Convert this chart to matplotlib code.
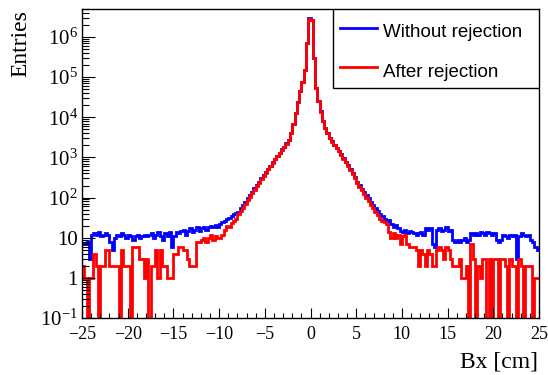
import matplotlib
matplotlib.use("Agg")
import matplotlib.pyplot as plt
import numpy as np
from matplotlib.patches import Rectangle
from matplotlib.lines import Line2D
from matplotlib.ticker import FixedLocator, FixedFormatter, MultipleLocator, LogLocator, NullFormatter

plt.rcParams['font.family'] = 'Liberation Serif'
plt.rcParams['mathtext.fontset'] = 'custom'
plt.rcParams['mathtext.rm'] = 'Liberation Serif'
plt.rcParams['mathtext.it'] = 'Liberation Serif:italic'

# 200 bins of 0.25 cm between -25 and 25 cm
x_min, x_max, n_bins = -25, 25, 200
edges = np.linspace(x_min, x_max, n_bins + 1)

without_rejection = [
    7, 7, 8, 3,          12, 13, 12, 14,      11, 12, 13, 12,      8, 5, 10, 12,
    11, 13, 12, 10,      12, 11, 9, 11,       12, 10, 11, 12,      11, 12, 13, 10,
    12, 14, 11, 9,       13, 11, 14, 6,       11, 14, 13, 15,      16, 12, 15, 17,
    14, 16, 18, 15,      17, 19, 16, 18,      20, 19, 21, 18,      22, 24, 26, 30,
    31, 34, 38, 42,      45, 54, 65, 79,      95, 115, 140, 170,   205, 245, 300, 365,
    435, 525, 630, 760,  910, 1100, 1320, 1580,
    1860, 2240, 2750, 4000,
    7000, 12600, 24000, 45000,
    75000, 150000, 700000, 2900000,
    2700000, 300000, 55000, 25000,
    14000, 8000, 5500, 4000,
    3000, 2500, 2100, 1750,
    1450, 1200, 950, 780,
    640, 520, 400, 320,  250, 205, 168, 138,  114, 95, 78, 65,     54, 46, 40, 34,
    30, 26, 28, 22,      19, 21, 17, 15,      14, 16, 13, 15,      14, 13, 12, 13,
    14, 12, 17, 16,      17, 7, 6, 16,        17, 15, 16, 18,      15, 16, 9, 8,
    9, 8, 9, 10,         8, 9, 13, 12,        13, 12, 14, 13,      12, 14, 13, 12,
    13, 9, 8, 9,         12, 11, 10, 12,      11, 12, 3, 11,       13, 12, 11, 12,
    9, 8, 6, 5,
]

after_rejection = [
    2, 1, 0, 1,          1, 4, 2, 0,          2, 2, 5, 5,          2, 2, 2, 2,
    0, 5, 2, 2,          2, 0, 6, 6,          6, 3, 3, 1,          3, 0, 2, 2,
    5, 1, 5, 2,          2, 1, 1, 1,          4, 4, 6, 6,          5, 5, 3, 2,
    2, 2, 8, 8,          9, 10, 8, 10,        12, 9, 11, 10,       10, 12, 16, 20,
    18, 23, 26, 30,      38, 46, 56, 70,      85, 104, 128, 156,   190, 230, 285, 345,
    415, 505, 610, 740,  890, 1080, 1300, 1560,
    1840, 2220, 2720, 3960,
    6950, 12500, 23800, 44700,
    74500, 149000, 695000, 2800000,
    2600000, 298000, 54500, 24800,
    13900, 7950, 5450, 3960,
    2970, 2470, 2070, 1720,
    1420, 1170, 925, 755,
    615, 495, 378, 300,  232, 188, 152, 123,  100, 82, 66, 54,     44, 37, 30, 26,
    25, 22, 14, 10,      13, 10, 12, 7,       11, 12, 7, 6,        6, 6, 5, 2,
    5, 4, 2, 5,          4, 2, 2, 5,          6, 5, 3, 6,          5, 3, 2, 2,
    2, 3, 1, 1,          2, 0, 7, 3,          0, 2, 1, 3,          3, 0, 3, 0,
    3, 3, 0, 3,          3, 2, 0, 3,          2, 2, 0, 3,          2, 0, 2, 2,
    2, 0, 1, 1,
]

series_names = ["Without rejection", "After rejection"]
series_colors = ["#0000ff", "#ff0000"]

y_ticks = [0.1, 1, 10, 1e2, 1e3, 1e4, 1e5, 1e6]
y_tick_labels = [r"$10^{-1}$", "1", "10", r"$10^{2}$", r"$10^{3}$",
                 r"$10^{4}$", r"$10^{5}$", r"$10^{6}$"]

fig = plt.figure(figsize=(5.48, 3.75), dpi=100)
ax = fig.add_axes([82 / 548, 1 - 318 / 375, 457 / 548, 309 / 375])

for vals, col in zip([without_rejection, after_rejection], series_colors):
    ax.stairs(vals, edges, baseline=None, color=col, linewidth=2.0)

ax.set_yscale('log', nonpositive='clip')
ax.set_xlim(x_min, x_max)
ax.set_ylim(0.1, 5e6)

ax.xaxis.set_major_locator(MultipleLocator(5))
ax.xaxis.set_minor_locator(MultipleLocator(1))
ax.yaxis.set_major_locator(FixedLocator(y_ticks))
ax.yaxis.set_major_formatter(FixedFormatter(y_tick_labels))
ax.yaxis.set_minor_locator(LogLocator(base=10, subs=np.arange(2, 10), numticks=20))
ax.yaxis.set_minor_formatter(NullFormatter())

ax.tick_params(axis='x', which='major', direction='in', length=7, width=0.8, pad=6, labelsize=13)
ax.tick_params(axis='x', which='minor', direction='in', length=3.5, width=0.8)
ax.tick_params(axis='y', which='major', direction='in', length=9.5, width=0.8, pad=3, labelsize=15)
ax.tick_params(axis='y', which='minor', direction='in', length=5, width=0.8)
for sp in ax.spines.values():
    sp.set_linewidth(1.0)

fig.text(21 / 548, 1 - 10 / 375, "Entries", rotation=90, ha='center', va='top', fontsize=17)
fig.text(538 / 548, 1 - 362 / 375, "Bx [cm]", ha='right', va='center', fontsize=17)

# legend box in the upper right corner
ax.add_patch(Rectangle((0.550, 0.744), 0.450, 0.256, transform=ax.transAxes,
                       facecolor='white', edgecolor='black', linewidth=1.0, zorder=5))
row_line_y = [0.9375, 0.813]
row_text_y = [0.908, 0.781]
for name, col, ly, ty in zip(series_names, series_colors, row_line_y, row_text_y):
    ax.add_line(Line2D([0.5646, 0.645], [ly, ly], transform=ax.transAxes,
                       color=col, linewidth=2.0, zorder=6))
    ax.text(0.659, ty, name, transform=ax.transAxes, ha='left', va='baseline',
            fontsize=13.5, family='Liberation Sans', zorder=6)

fig.savefig("out.png", dpi=100)
